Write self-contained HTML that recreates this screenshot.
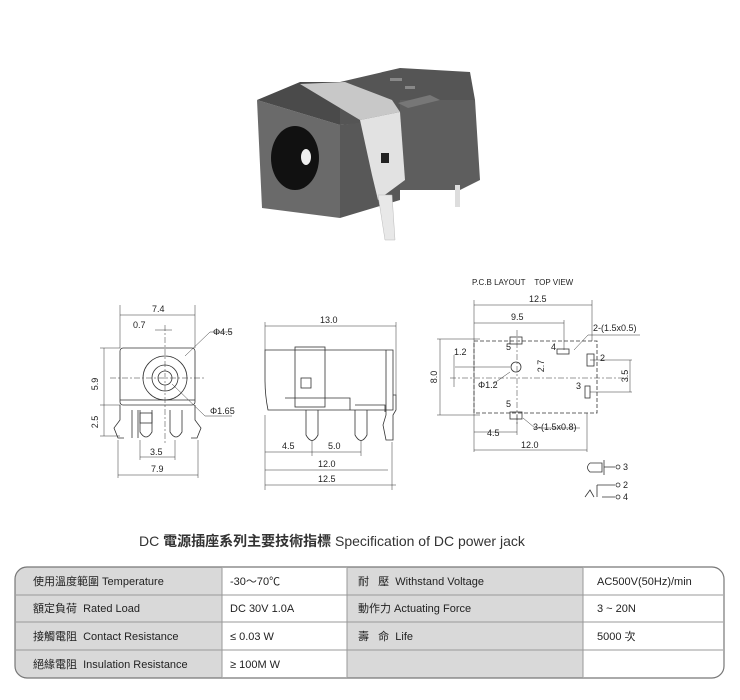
<!DOCTYPE html>
<html><head><meta charset="utf-8"><style>
html,body{margin:0;padding:0;background:#fff;width:740px;height:700px;overflow:hidden}
svg{display:block}
.t{font-family:"Liberation Sans",sans-serif;font-size:9px;fill:#222}
.c{font-family:"Liberation Sans","Noto Sans CJK TC",sans-serif;font-size:11px;fill:#222}
</style></head><body>
<svg width="740" height="700" viewBox="0 0 740 700">
<defs><clipPath id="tb"><rect x="15" y="567" width="709" height="111" rx="12"/></clipPath></defs>
<!-- photo -->
<g>
<polygon points="257,100 340,125 340,218 262,208" fill="#6a6a6a"/>
<polygon points="257,100 300,82 345,82 360,96 340,125" fill="#4a4a4a"/>
<polygon points="340,82 400,68 470,72 475,100 400,120 340,125" fill="#555"/>
<polygon points="400,100 475,100 480,180 460,190 400,190" fill="#5e5e5e"/>
<polygon points="340,125 400,118 400,200 340,218" fill="#585858"/>
<polygon points="300,84 345,82 392,100 400,112 360,120" fill="#c8c8c8"/>
<polygon points="360,120 400,112 405,180 378,200 372,175" fill="#e2e2e2"/>
<polygon points="378,195 392,195 395,240 385,240" fill="#e8e8e8" stroke="#bbb" stroke-width="0.5"/>
<rect x="381" y="153" width="8" height="10" fill="#222"/>
<ellipse cx="295" cy="158" rx="24" ry="32" fill="#111"/>
<ellipse cx="306" cy="157" rx="5" ry="8" fill="#eee"/>
<rect x="455" y="185" width="5" height="22" fill="#ddd"/>
<rect x="390" y="78" width="12" height="3" fill="#888"/>
<rect x="405" y="86" width="10" height="3" fill="#888"/>
<polygon points="398,103 430,95 440,100 408,108" fill="#777"/>
</g>
<g fill="none" stroke="#333" stroke-width="0.8">
<!-- front view -->
<rect x="120" y="348" width="75" height="57" rx="3"/>
<line x1="120" y1="400" x2="195" y2="400"/>
<circle cx="165" cy="378" r="22"/>
<circle cx="165" cy="378" r="13"/>
<circle cx="165" cy="378" r="7"/>
<path d="M120 405 L120 420 L114 428 L118 438 L124 438"/>
<path d="M195 405 L195 420 L201 428 L197 438 L191 438"/>
<path d="M132 410 L132 438 M138 410 L138 438"/>
<path d="M140 410 L140 432 Q146 442 152 432 L152 410"/>
<path d="M170 410 L170 432 Q176 442 182 432 L182 410"/>
<rect x="140" y="413" width="12" height="10"/>
<g stroke-width="0.5">
<line x1="120" y1="305" x2="120" y2="348"/><line x1="195" y1="305" x2="195" y2="348"/>
<line x1="120" y1="315" x2="195" y2="315"/>
<line x1="155" y1="330" x2="172" y2="330"/>
<line x1="100" y1="348" x2="120" y2="348"/><line x1="100" y1="405" x2="120" y2="405"/><line x1="100" y1="436" x2="120" y2="436"/>
<line x1="104" y1="348" x2="104" y2="436"/>
<line x1="118" y1="440" x2="118" y2="478"/><line x1="198" y1="440" x2="198" y2="478"/>
<line x1="118" y1="475" x2="198" y2="475"/>
<line x1="140" y1="440" x2="140" y2="460"/><line x1="175" y1="440" x2="175" y2="460"/>
<line x1="140" y1="457" x2="175" y2="457"/>
<line x1="185" y1="356" x2="210" y2="332"/><line x1="210" y1="332" x2="232" y2="332"/>
<line x1="172" y1="384" x2="205" y2="416"/><line x1="205" y1="416" x2="232" y2="416"/>
<line x1="165" y1="325" x2="165" y2="445" stroke-dasharray="6,2,2,2"/>
<line x1="110" y1="378" x2="205" y2="378" stroke-dasharray="6,2,2,2"/>
</g>
<!-- side view -->
<path d="M265 350 L393 350 L393 410 L268 410 Q265 395 265 380 Z"/>
<rect x="295" y="347" width="30" height="60"/>
<rect x="301" y="378" width="10" height="10"/>
<path d="M285 398 L350 398 L350 410 M355 405 L385 405 L385 412"/>
<path d="M306 410 L306 435 Q312 446 318 435 L318 410"/>
<path d="M355 410 L355 435 Q361 446 367 435 L367 410"/>
<path d="M386 350 L386 415 L383 425 L386 440 L393 440 L393 415 L396 410 L396 395 L393 395"/>
<g stroke-width="0.5">
<line x1="265" y1="322" x2="265" y2="350"/><line x1="396" y1="322" x2="396" y2="395"/>
<line x1="265" y1="326" x2="396" y2="326"/>
<line x1="265" y1="415" x2="265" y2="490"/><line x1="312" y1="440" x2="312" y2="456"/><line x1="361" y1="440" x2="361" y2="456"/>
<line x1="392" y1="442" x2="392" y2="490"/>
<line x1="265" y1="452" x2="361" y2="452"/>
<line x1="265" y1="470" x2="388" y2="470"/>
<line x1="265" y1="485" x2="396" y2="485"/>
</g>
<!-- PCB -->
<rect x="474" y="341" width="123" height="72" stroke-dasharray="4,2"/>
<g stroke-width="0.5">
<line x1="474" y1="300" x2="474" y2="452"/><line x1="592" y1="300" x2="592" y2="341"/>
<line x1="474" y1="305" x2="592" y2="305"/>
<line x1="474" y1="323" x2="564" y2="323"/><line x1="564" y1="320" x2="564" y2="350"/>
<line x1="587" y1="413" x2="587" y2="452"/>
<line x1="474" y1="450" x2="587" y2="450"/>
<line x1="517" y1="415" x2="517" y2="435"/>
<line x1="474" y1="432" x2="517" y2="432"/>
<line x1="437" y1="339" x2="480" y2="339"/><line x1="437" y1="415" x2="480" y2="415"/>
<line x1="440" y1="339" x2="440" y2="415"/>
<line x1="454" y1="355" x2="454" y2="387"/>
<line x1="455" y1="367" x2="510" y2="367"/>
<line x1="450" y1="378" x2="630" y2="378" stroke-dasharray="6,2,2,2"/>
<line x1="517" y1="330" x2="517" y2="425" stroke-dasharray="6,2,2,2"/>
<line x1="590" y1="360" x2="632" y2="360"/><line x1="590" y1="392" x2="632" y2="392"/>
<line x1="630" y1="360" x2="630" y2="392"/>
<line x1="510" y1="372" x2="493" y2="384"/>
<line x1="574" y1="350" x2="588" y2="335"/><line x1="588" y1="335" x2="640" y2="335"/>
<line x1="523" y1="418" x2="535" y2="428"/><line x1="535" y1="428" x2="580" y2="428"/>
</g>
<circle cx="516" cy="367" r="5"/>
<rect x="510" y="337" width="12" height="7"/>
<rect x="510" y="412" width="12" height="7"/>
<rect x="557" y="349" width="12" height="5"/>
<rect x="587" y="354" width="7" height="12"/>
<rect x="585" y="386" width="5" height="12"/>
<!-- legend -->
<path d="M590 463 L602 463 L602 472 L590 472 Q585 467.5 590 463 M604 460 L604 475 M604 467 L615 467"/>
<path d="M597 485 L597 497 M597 485 L615 485 M602 497 L615 497 M585 497 L590 490 L594 497"/>
<circle cx="618" cy="467" r="2"/><circle cx="618" cy="485" r="2"/><circle cx="618" cy="497" r="2"/>
</g>
<g class="t">
<text x="152" y="312">7.4</text><text x="133" y="328">0.7</text>
<text x="213" y="335">Φ4.5</text><text x="210" y="414">Φ1.65</text>
<text x="151" y="472">7.9</text><text x="150" y="455">3.5</text>
<text x="98" y="384" transform="rotate(-90 98 384)" text-anchor="middle">5.9</text>
<text x="98" y="422" transform="rotate(-90 98 422)" text-anchor="middle">2.5</text>
<text x="320" y="323">13.0</text><text x="282" y="449">4.5</text><text x="328" y="449">5.0</text>
<text x="318" y="467">12.0</text><text x="318" y="482">12.5</text>
<text x="472" y="285" font-size="8">P.C.B LAYOUT&#160;&#160;&#160;&#160;TOP VIEW</text>
<text x="529" y="302">12.5</text><text x="511" y="320">9.5</text>
<text x="593" y="331">2-(1.5x0.5)</text><text x="551" y="350">4</text><text x="600" y="361">2</text>
<text x="576" y="389">3</text><text x="506" y="350">5</text><text x="506" y="407">5</text>
<text x="533" y="430">3-(1.5x0.8)</text><text x="487" y="436">4.5</text><text x="521" y="448">12.0</text>
<text x="454" y="355">1.2</text><text x="478" y="388">Φ1.2</text>
<text x="437" y="377" transform="rotate(-90 437 377)" text-anchor="middle">8.0</text>
<text x="544" y="366" transform="rotate(-90 544 366)" text-anchor="middle">2.7</text>
<text x="628" y="376" transform="rotate(-90 628 376)" text-anchor="middle">3.5</text>
<text x="623" y="470">3</text><text x="623" y="488">2</text><text x="623" y="500">4</text>
</g>
<text x="139" y="546" font-family="Liberation Sans,'Noto Sans CJK TC',sans-serif" font-size="14" fill="#333">DC <tspan font-weight="bold">電源插座系列主要技術指標</tspan> Specification of DC power jack</text>
<!-- table -->
<g clip-path="url(#tb)">
<rect x="15" y="567" width="709" height="111" fill="#d9d9d9"/>
<rect x="222" y="567" width="125" height="111" fill="#fff"/>
<rect x="583" y="567" width="141" height="111" fill="#fff"/>
<g stroke="#999" stroke-width="1">
<line x1="16" y1="595" x2="723" y2="595"/><line x1="16" y1="622" x2="723" y2="622"/><line x1="16" y1="650" x2="723" y2="650"/>
<line x1="222" y1="568" x2="222" y2="677"/><line x1="347" y1="568" x2="347" y2="677"/><line x1="583" y1="568" x2="583" y2="677"/>
</g>
</g>
<rect x="15" y="567" width="709" height="111" rx="12" fill="none" stroke="#777" stroke-width="1.2"/>
<g class="c">
<text x="33" y="585">使用溫度範圍 Temperature</text>
<text x="33" y="612">額定負荷&#160; Rated Load</text>
<text x="33" y="640">接觸電阻&#160; Contact Resistance</text>
<text x="33" y="668">絕緣電阻&#160; Insulation Resistance</text>
<text x="230" y="585">-30～70℃</text>
<text x="230" y="612">DC 30V 1.0A</text>
<text x="230" y="640">≤ 0.03 W</text>
<text x="230" y="668">≥ 100M W</text>
<text x="358" y="585">耐&#160;&#160; 壓&#160; Withstand Voltage</text>
<text x="358" y="612">動作力 Actuating Force</text>
<text x="358" y="640">壽&#160;&#160; 命&#160; Life</text>
<text x="597" y="585">AC500V(50Hz)/min</text>
<text x="597" y="612">3 ~ 20N</text>
<text x="597" y="640">5000 次</text>
</g>
</svg>
</body></html>
